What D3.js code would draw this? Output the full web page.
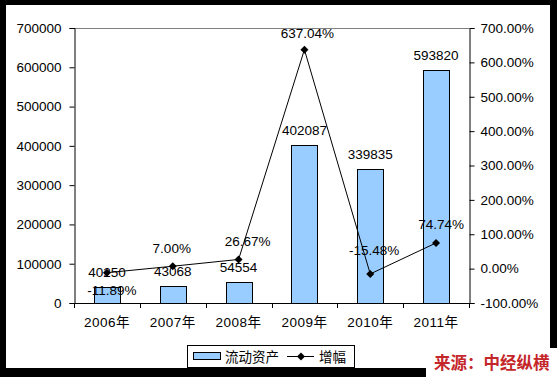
<!DOCTYPE html>
<html lang="zh">
<head>
<meta charset="UTF-8">
<title>流动资产</title>
<script src="https://cdn.jsdelivr.net/npm/d3@7"></script>
<style>
  body { margin: 0; background: #000; }
  text { font-family: "Liberation Sans", Arial, "Noto Sans CJK SC", sans-serif; }
</style>
</head>
<body>
<svg width="557" height="377"></svg>
<script>
    // data
    var years = ["2006年", "2007年", "2008年", "2009年", "2010年", "2011年"];
    var assets = [40250, 43068, 54554, 402087, 339835, 593820];
    var growth = [-11.89, 7.00, 26.67, 637.04, -15.48, 74.74];
    var leftTicks = [0, 100000, 200000, 300000, 400000, 500000, 600000, 700000];
    var rightTicks = [-100, 0, 100, 200, 300, 400, 500, 600, 700];

    var svg = d3.select("svg");
    var fs = "13.5px";

    // black frame + white panel
    svg.append("rect").attr("width", 557).attr("height", 377).attr("fill", "#000");
    svg.append("rect").attr("x", 6).attr("y", 5).attr("width", 544).attr("height", 363).attr("fill", "#fff");

    var plot = {left: 74, right: 469, top: 28, bottom: 303};

    var x = d3.scaleBand().domain(years).range([plot.left, plot.right]);
    var yL = d3.scaleLinear().domain([0, 700000]).range([plot.bottom, plot.top]);
    var yR = d3.scaleLinear().domain([-100, 700]).range([plot.bottom, plot.top]);

    // plot top border (gray)
    svg.append("line")
        .attr("x1", plot.left).attr("x2", plot.right)
        .attr("y1", plot.top + 0.5).attr("y2", plot.top + 0.5)
        .attr("stroke", "#808080");

    // bars
    var barW = 26;
    svg.selectAll(".bar").data(assets).enter().append("rect")
        .attr("x", function(d, i) { return Math.round(x(years[i]) + x.bandwidth() / 2 - barW / 2) + 0.5; })
        .attr("y", function(d) { return Math.round(yL(d)) + 0.5; })
        .attr("width", barW)
        .attr("height", function(d) { return Math.round(plot.bottom - yL(d)); })
        .attr("fill", "#99ccff")
        .attr("stroke", "#000");

    // left axis
    var axL = svg.append("g")
        .attr("transform", "translate(" + (plot.left + 0.5) + ",0)")
        .call(d3.axisLeft(yL).tickValues(leftTicks).tickSize(5).tickPadding(8).tickFormat(d3.format("d")));
    // right axis
    var axR = svg.append("g")
        .attr("transform", "translate(" + (plot.right + 0.5) + ",0)")
        .call(d3.axisRight(yR).tickValues(rightTicks).tickSize(5).tickPadding(6)
            .tickFormat(function(d) { return d.toFixed(2) + "%"; }));
    // bottom axis
    var axB = svg.append("g")
        .attr("transform", "translate(0," + (plot.bottom + 0.5) + ")")
        .call(d3.axisBottom(x).tickSize(0).tickPadding(14));
    // category boundary ticks
    svg.selectAll(".xtick").data(d3.range(years.length + 1)).enter().append("line")
        .attr("x1", function(i) { return Math.round(plot.left + i * x.step()) + 0.5; })
        .attr("x2", function(i) { return Math.round(plot.left + i * x.step()) + 0.5; })
        .attr("y1", plot.bottom).attr("y2", plot.bottom + 5)
        .attr("stroke", "#000");

    [axL, axR, axB].forEach(function(a) {
        a.select(".domain").attr("stroke", "#000");
        a.selectAll("text").attr("font-size", fs).attr("fill", "#000")
            .style("font-family", '"Liberation Sans", Arial, "Noto Sans CJK SC", sans-serif');
    });
    axB.selectAll("text").attr("letter-spacing", "0.5px");
    axB.select(".domain").attr("d", "M" + plot.left + ",0H" + plot.right);

    // bar labels
    svg.selectAll(".blab").data(assets).enter().append("text")
        .attr("x", function(d, i) { return x(years[i]) + x.bandwidth() / 2; })
        .attr("y", function(d) { return yL(d) - 10; })
        .attr("text-anchor", "middle")
        .attr("font-size", fs)
        .text(function(d) { return d; });

    // growth line
    var cx = function(d, i) { return x(years[i]) + x.bandwidth() / 2; };
    var line = d3.line().x(function(d, i) { return cx(d, i); }).y(function(d) { return yR(d); });
    svg.append("path").datum(growth)
        .attr("d", line).attr("fill", "none").attr("stroke", "#000").attr("stroke-width", 1);
    var diamond = "M0,-4L4,0L0,4L-4,0Z";
    svg.selectAll(".mk").data(growth).enter().append("path")
        .attr("d", diamond)
        .attr("transform", function(d, i) { return "translate(" + cx(d, i) + "," + yR(d) + ")"; })
        .attr("fill", "#000");

    // growth labels, nudged like the hand-placed labels of the original
    var labDx = [5, -1, 9, 3, 4, 5];
    var labDy = [22, -13, -13, -12, -19, -14];
    svg.selectAll(".glab").data(growth).enter().append("text")
        .attr("x", function(d, i) { return cx(d, i) + labDx[i]; })
        .attr("y", function(d, i) { return yR(d) + labDy[i]; })
        .attr("text-anchor", "middle")
        .attr("font-size", fs)
        .text(function(d) { return d.toFixed(2) + "%"; });

    // legend
    var lg = svg.append("g").attr("transform", "translate(187,345)");
    lg.append("rect").attr("x", 0.5).attr("y", 0.5).attr("width", 167).attr("height", 22)
        .attr("fill", "#fff").attr("stroke", "#000");
    lg.append("rect").attr("x", 6.5).attr("y", 7.5).attr("width", 27).attr("height", 7)
        .attr("fill", "#99ccff").attr("stroke", "#000");
    lg.append("text").attr("x", 38).attr("y", 16.5).attr("font-size", fs).text("流动资产");
    lg.append("line").attr("x1", 100).attr("x2", 127).attr("y1", 11.5).attr("y2", 11.5).attr("stroke", "#000");
    lg.append("path").attr("d", diamond).attr("transform", "translate(114,11.5)");
    lg.append("text").attr("x", 132).attr("y", 16.5).attr("font-size", fs).text("增幅");

    // source note
    svg.append("rect").attr("x", 426).attr("y", 348).attr("width", 131).attr("height", 29).attr("fill", "#fff");
    svg.append("text").attr("x", 434).attr("y", 369)
        .attr("font-size", "16.5px").attr("font-weight", "bold")
        .attr("fill", "#c4262a")
        .style("font-family", '"Noto Sans CJK SC", sans-serif')
        .text("来源：中经纵横");
</script>
</body>
</html>
